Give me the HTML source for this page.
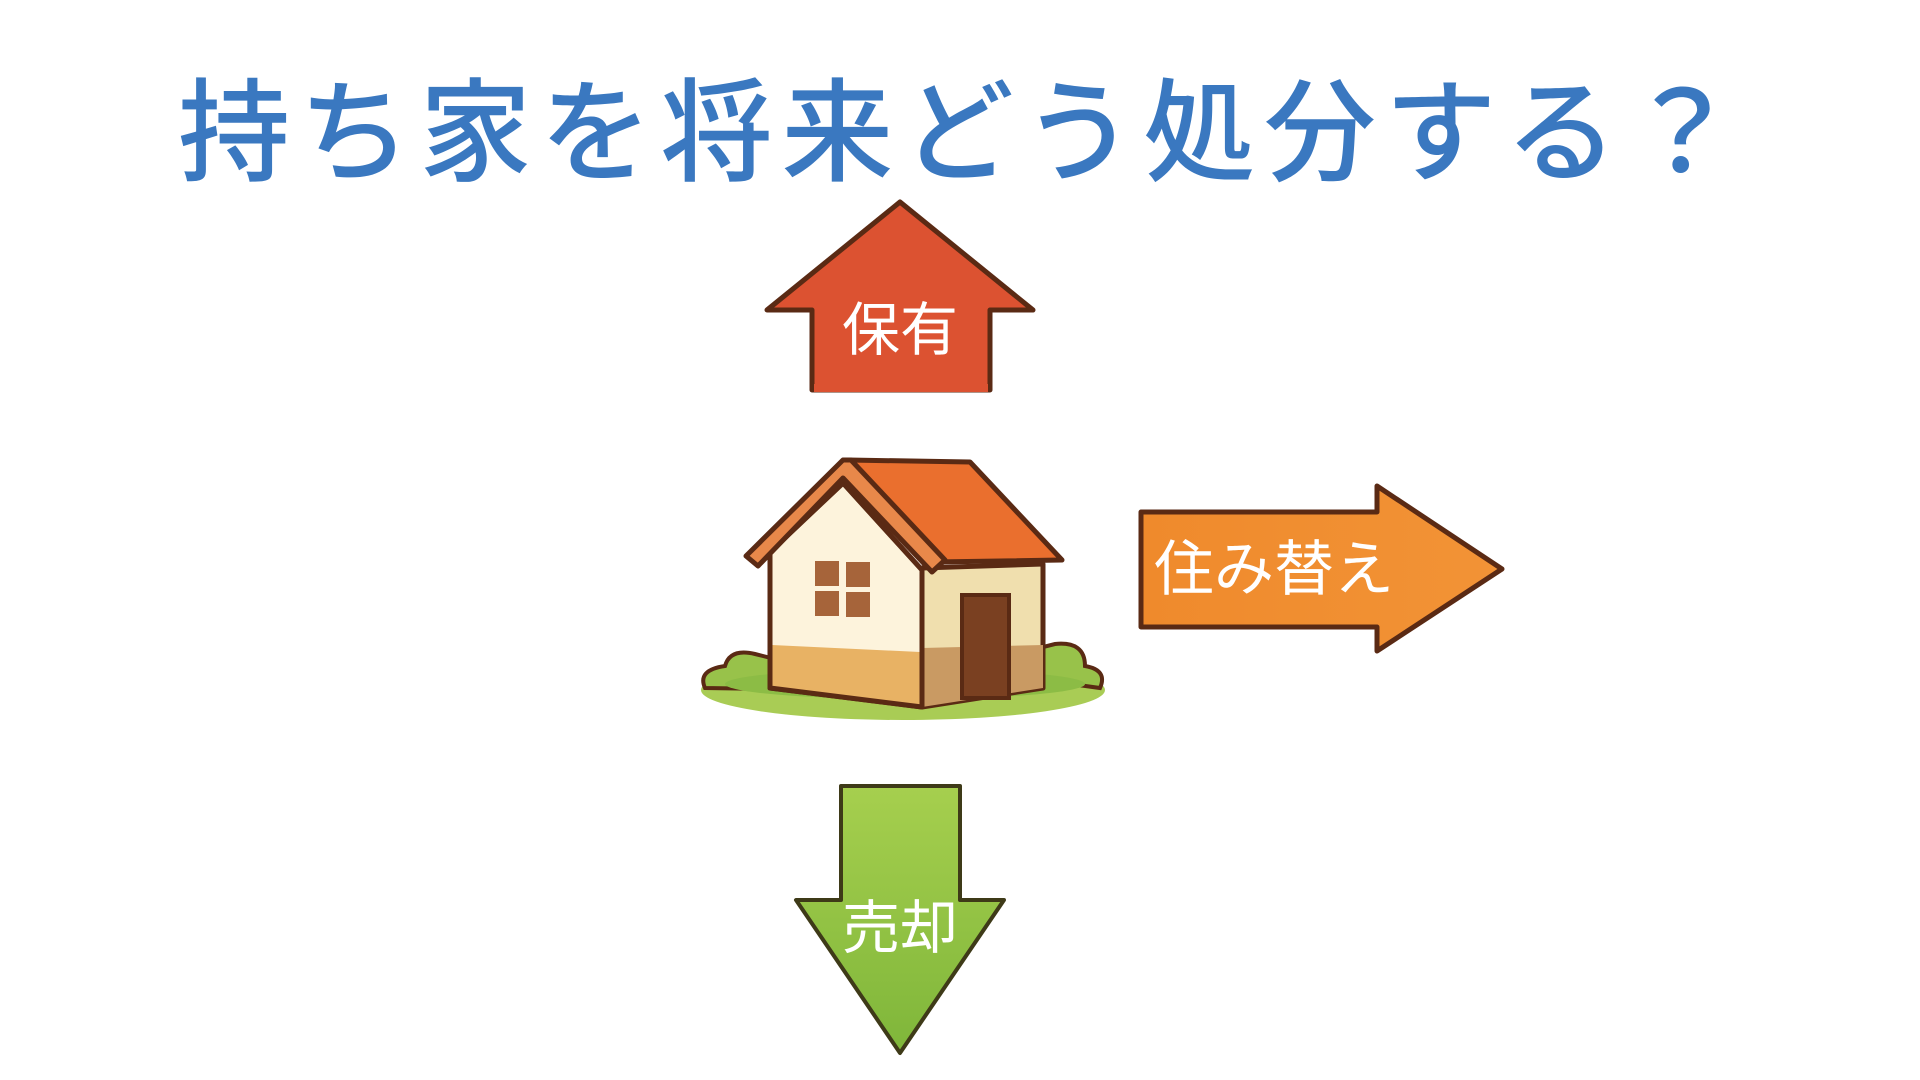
<!DOCTYPE html>
<html><head><meta charset="utf-8"><style>
html,body{margin:0;padding:0;background:#fff;}
svg{display:block;}
text{font-family:"Liberation Sans","Noto Sans CJK JP",sans-serif;}
</style></head><body>
<svg width="1920" height="1080" viewBox="0 0 1920 1080" xmlns="http://www.w3.org/2000/svg">
<defs>
<linearGradient id="gg" x1="0" y1="0" x2="0" y2="1"><stop offset="0" stop-color="#a6cf4e"/><stop offset="1" stop-color="#7fb63a"/></linearGradient>
<linearGradient id="og" x1="0" y1="0" x2="1" y2="0"><stop offset="0" stop-color="#ef8a2c"/><stop offset="1" stop-color="#f29336"/></linearGradient>
</defs>
<rect width="1920" height="1080" fill="#fff"/>
<text x="178" y="172" textLength="1560" lengthAdjust="spacing" font-size="112" fill="#3a78c0" font-weight="500">持ち家を将来どう処分する？</text>

<!-- up arrow -->
<polygon points="900,202 1033,310 990,310 990,390 812,390 812,310 767,310" fill="#dc5231" stroke="#5a2a14" stroke-width="5" stroke-linejoin="round"/>
<rect x="814" y="384" width="174" height="8" fill="#dc5231"/>
<text x="900" y="350" text-anchor="middle" font-size="58" fill="#fff">保有</text>

<!-- house -->
<ellipse cx="903" cy="690" rx="202" ry="30" fill="#a9cc55"/>
<path d="M705,688 q-8,-18 20,-22 q5,-18 30,-12 l20,5 l0,30 Z" fill="#98c24a" stroke="#5a2a14" stroke-width="4"/>
<path d="M1100,688 q8,-18 -15,-22 q0,-25 -30,-22 l-20,5 l0,30 Z" fill="#98c24a" stroke="#5a2a14" stroke-width="4"/>
<ellipse cx="905" cy="684" rx="180" ry="15" fill="#8cbc45"/>
<polygon points="922,568 1043,564 1043,688 922,707" fill="#f0dfae" stroke="#5a2a14" stroke-width="5" stroke-linejoin="round"/>
<polygon points="922,648 1043,645 1043,688 922,707" fill="#c99a63"/>
<rect x="962" y="595" width="47" height="103" fill="#7a4021" stroke="#5a2a14" stroke-width="4"/>
<polygon points="770,552 843,483 922,570 922,707 770,688" fill="#fdf3dc" stroke="#5a2a14" stroke-width="5" stroke-linejoin="round"/>
<polygon points="772,645 920,652 920,705 772,686" fill="#e8b264"/>
<polygon points="770,552 843,483 922,570 922,707 770,688" fill="none" stroke="#5a2a14" stroke-width="5" stroke-linejoin="round"/>
<rect x="815" y="561" width="24" height="25" fill="#a6643a"/><rect x="846" y="562" width="24" height="25" fill="#a6643a"/>
<rect x="815" y="591" width="24" height="25" fill="#a6643a"/><rect x="846" y="592" width="24" height="25" fill="#a6643a"/>
<polygon points="848,460 970,462 1062,560 934,562" fill="#ea6f2e" stroke="#5a2a14" stroke-width="5" stroke-linejoin="round"/>
<polygon points="843,460 851,460 945,560 932,572 843,478 758,566 746,556" fill="#e8884a" stroke="#5a2a14" stroke-width="5" stroke-linejoin="round"/>

<!-- right arrow -->
<polygon points="1141,512 1377,512 1377,486 1502,569 1377,651 1377,627 1141,627" fill="url(#og)" stroke="#5a2a14" stroke-width="5" stroke-linejoin="round"/>
<text x="1154" y="590" font-size="60" fill="#fff">住み替え</text>

<!-- down arrow -->
<polygon points="841,786 960,786 960,900 1004,900 900,1053 796,900 841,900" fill="url(#gg)" stroke="#3e3a18" stroke-width="4" stroke-linejoin="round"/>
<text x="900" y="948" text-anchor="middle" font-size="58" fill="#fff">売却</text>
</svg>
</body></html>
